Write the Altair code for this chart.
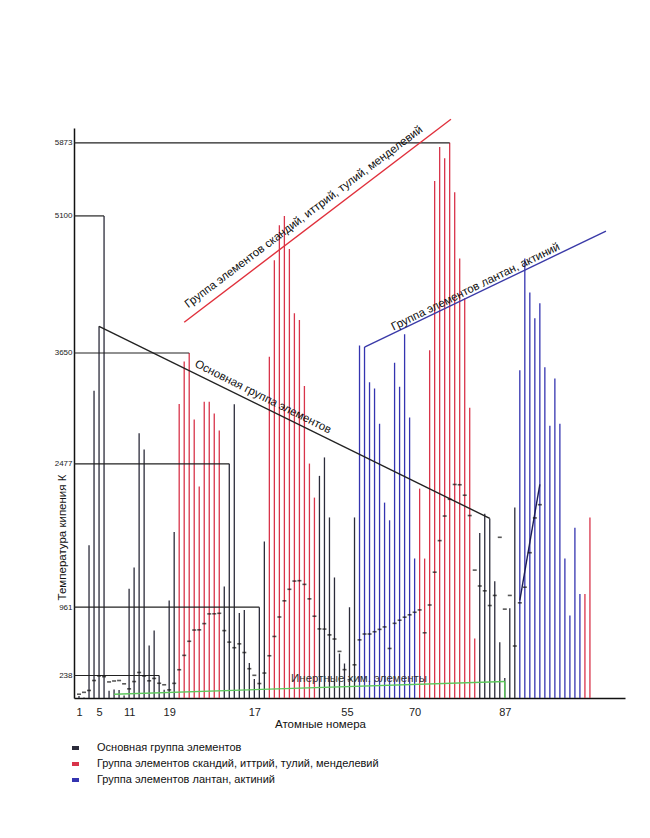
import altair as alt
import pandas as pd

# ---------------- data ----------------
# atomic numbers 1..103 (x position = atomic number)
boil_K = [
    20, 4, 1615, 3250, 3932, 5100, 77, 90, 85, 27,            # 1-10
    1156, 1380, 2800, 2630, 556, 714, 238, 87, 1032, 1757,    # 11-20
    3110, 3560, 3650, 2945, 2237, 3135, 3135, 3010, 2830, 1180,  # 21-30
    2477, 3107, 900, 930, 370, 200, 961, 1655, 3611, 4630,    # 31-40
    5000, 5100, 4750, 4070, 4000, 3300, 2480, 2120, 2350, 2545,  # 41-50
    1910, 1275, 470, 365, 960, 1910, 3730, 3713, 3340, 3275,  # 51-60
    2900, 2067, 1880, 3546, 3292, 3848, 2968, 1476, 2215, 1475,  # 61-70
    3680, 5470, 5830, 5710, 5873, 5350, 4650, 4230, 3070, 630,   # 71-80
    1746, 1950, 1900, 1235, 590, 211, 950, 2015, 3466, 4650,  # 81-90
    4290, 4018, 4175, 3500, 2880, 3380, 2900, 1477, 873, 1800,   # 91-100
    1100, 1100, 1910,                                         # 101-103
]
group_code = (
    "k" * 20 + "r" * 9 + "k" * 9 + "r" * 10 + "k" * 8 +
    "b" * 12 + "r" * 12 + "k" * 8 + "b" * 13 + "r" * 2
)
# small dash markers (same temperature scale)
marker_K = [
    40, 60, 80, 185, 234, 226, 170, 180, 185, 150,
    97, 174, 270, 233, 182, 207, 156, 140, 86, 155,
    299, 451, 600, 719, 721, 787, 890, 891, 896, 713,
    591, 532, 573, 481, 310, 240, 153, 264, 447, 651,
    857, 1028, 1150, 1237, 1241, 1202, 1049, 865, 731, 729,
    668, 624, 493, 300, 193, 351, 615, 677, 677, 701,
    726, 752, 524, 790, 823, 855, 880, 907, 932, 690,
    984, 1331, 1665, 1925, 2102, 2259, 2256, 2145, 1930, 1353,
    1185, 1134, 978, 1085, 1700, 940, 1085, 550, 1007, 1172,
    1537, 1905, 2045,
]

group_names = {
    "k": "Основная группа элементов",
    "r": " Группа элементов скандий, иттрий, тулий, менделевий",
    "b": "Группа элементов лантан, актиний",
}
group_order = [group_names["k"], group_names["r"], group_names["b"]]
group_colors = ["#2b2b3a", "#d8344a", "#3434b0"]

y_ticks = [238, 961, 2477, 3650, 5100, 5873]
x_tick_pos = [1, 5, 11, 19, 36, 54.5, 68, 86]
x_tick_txt = ["1", "5", "11", "19", "17", "55", "70", "87"]

# reference step lines: level and element where they end
ref_K = [5873, 5100, 3650, 2477, 961, 238]
ref_end = [75, 6, 23, 31, 37, 17]

# annotation segments (atomic number, K)
seg_x1 = [5, 22, 58, 8, 86, 89]
seg_y1 = [3932, 3975, 3713, 40, 175, 1032]
seg_x2 = [83, 75.25, 106.2, 86, 86, 93]
seg_y2 = [1900, 6123, 4939, 175, 0, 2260]
seg_col = ["#222222", "#e0303c", "#3a3aa8", "#5cc85c", "#5cc85c", "#1c1c55"]

labels_txt = [
    "Группа элементов скандий, иттрий, тулий, менделевий",
    "Основная группа элементов",
    "Группа элементов лантан, актиний",
    "Инертные хим. элементы",
]
labels_x = [45.9, 37.7, 80.2, 56.9]
labels_y = [5086, 3181, 4345, 196]
labels_angle = [323, 26.5, 334, 0]
labels_color = ["#111111", "#111111", "#111111", "#333333"]

# ---------------- build tables ----------------
n = len(boil_K)
bars = pd.DataFrame({
    "z": list(range(1, n + 1)),
    "K": boil_K,
    "group": [group_names[c] for c in group_code[:n]],
})
marks = pd.DataFrame({"z": list(range(1, len(marker_K) + 1)), "K": marker_K})
refs = pd.DataFrame({"x0": [0] * len(ref_K), "x1": ref_end, "K": ref_K})
segs = pd.DataFrame({"x1": seg_x1, "y1": seg_y1, "x2": seg_x2, "y2": seg_y2, "c": seg_col})

label_expr = "''"
for p, t in reversed(list(zip(x_tick_pos, x_tick_txt))):
    label_expr = f"datum.value == {p} ? '{t}' : ({label_expr})"

xscale = alt.Scale(domain=[0, 110], nice=False, zero=False)
yscale = alt.Scale(domain=[0, 6030], nice=False)

x_axis = alt.Axis(
    values=x_tick_pos, labelExpr=label_expr, ticks=False, grid=False,
    domainColor="#111111", domainWidth=1.5, labelFontSize=11, labelColor="#222222",
    labelPadding=8, title="Атомные номера", titleFontSize=11.5, titleFontWeight="normal",
    titleColor="#111111", titleX=246, titleY=26, titleAlign="center", titleBaseline="middle",
)
y_axis = alt.Axis(
    values=y_ticks, format="d", ticks=False, grid=False, domainColor="#111111",
    domainWidth=1.5, labelFontSize=8, labelColor="#222222", labelPadding=2,
    title="Температура кипения К", titleFontSize=11.5, titleFontWeight="normal",
    titleColor="#111111", titleAngle=270, titleX=-12, titleY=409,
    titleAlign="center", titleBaseline="middle",
)

bar_layer = alt.Chart(bars).mark_rule(strokeWidth=1.3).encode(
    x=alt.X("z:Q", scale=xscale, axis=x_axis),
    y=alt.Y("K:Q", scale=yscale, axis=y_axis),
    y2=alt.datum(0),
    color=alt.Color(
        "group:N",
        scale=alt.Scale(domain=group_order, range=group_colors),
        legend=alt.Legend(
            title=None, orient="none", legendX=-4, legendY=612,
            symbolType="M-1,0L1,0", symbolSize=49, symbolStrokeWidth=4,
            labelFontSize=11, labelColor="#111111", rowPadding=0, labelOffset=16,
            labelLimit=400, clipHeight=16,
        ),
    ),
)

ref_layer = alt.Chart(refs).mark_rule(strokeWidth=1.2, color="#222222").encode(
    x="x0:Q", x2="x1:Q", y="K:Q"
)

seg_layer = alt.Chart(segs).mark_rule(strokeWidth=1.4).encode(
    x="x1:Q", y="y1:Q", x2="x2:Q", y2="y2:Q", color=alt.Color("c:N", scale=None)
)

mark_layer = alt.Chart(marks).mark_tick(
    orient="horizontal", size=4, thickness=1.6, color="#111111"
).encode(x="z:Q", y="K:Q")

text_layers = []
for t, xx, yy, a, col in zip(labels_txt, labels_x, labels_y, labels_angle, labels_color):
    df = pd.DataFrame({"z": [xx], "K": [yy], "t": [t]})
    text_layers.append(
        alt.Chart(df).mark_text(
            angle=a, fontSize=11.5, color=col, align="center", baseline="middle"
        ).encode(x="z:Q", y="K:Q", text="t:N")
    )

chart = alt.layer(bar_layer, ref_layer, seg_layer, mark_layer, *text_layers).properties(
    width=551, height=570,
    autosize=alt.AutoSizeParams(type="none"),
    padding={"left": 66, "top": 120, "right": 17, "bottom": 132},
).configure(font="Liberation Sans").configure_view(strokeWidth=0)

chart.save("out.html", embed_options={"renderer": "svg", "actions": False})
